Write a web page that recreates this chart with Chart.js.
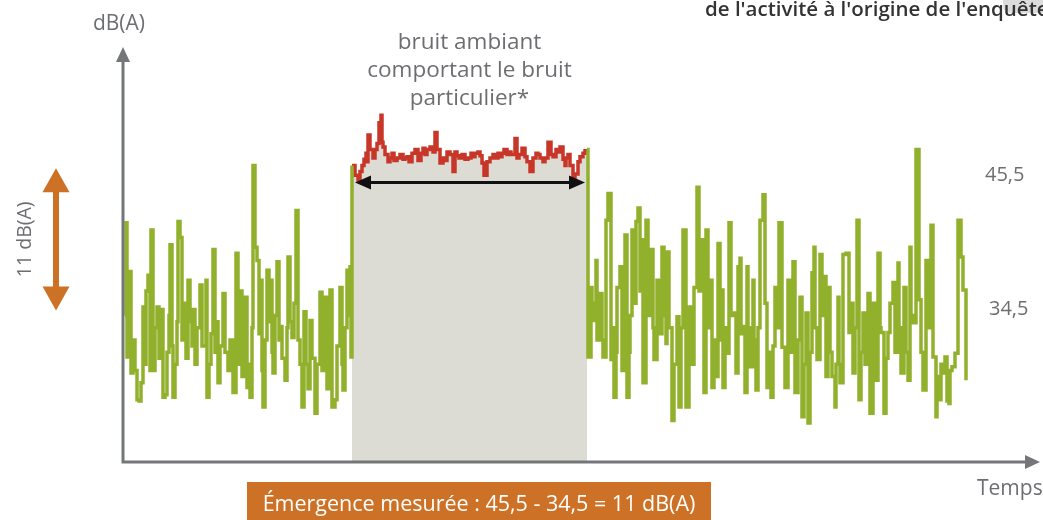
<!DOCTYPE html>
<html>
<head>
<meta charset="utf-8">
<script src="https://cdn.jsdelivr.net/npm/chart.js@4/dist/chart.umd.min.js"></script>
<style>
  html, body { margin: 0; padding: 0; background: #ffffff; }
  #wrap { width: 1043px; height: 520px; position: relative; }
</style>
</head>
<body>
<div id="wrap"><canvas id="c" width="1043" height="520"></canvas></div>
<script>
// ---------- DATA ----------
// Time (arbitrary units) and level in dB(A)
const leftTimes = [2,3,4,6,7,8,10,12,14,16,18,20,21,23,25,27,28,30,32,34,36,38,40,42,44,46,47,49,50,52,54,55,57,58,59,61,63,65,67,69,70,72,74,77,79,83,84,86,88,90,92,94,95,97,100,102,105,107,110,113,115,117,119,122,124,126,127,129,130,132,134,136,137,139,140,142,144,146,147,149,150,152,154,156,157,159,162,164,165,167,169,171,173,175,177,179,181,183,185,187,189,192,194,197,199,202,204,206,207,209,212,214,217,219,220,222,224,226,227,228,229];
const leftValues = [34.0,41.6,30.6,33.0,37.6,29.3,32.0,29.5,27.1,27.0,28.5,34.7,30.0,36.0,37.3,29.5,41.0,29.5,33.0,34.7,30.5,34.5,27.3,27.5,31.0,34.0,39.8,31.5,27.3,30.0,33.5,41.7,40.4,40.4,32.0,35.0,30.5,36.9,33.5,31.5,34.5,30.0,33.0,36.5,31.5,36.9,27.3,30.0,32.5,39.4,31.0,33.5,28.5,31.5,35.8,31.0,29.5,32.0,27.7,39.1,30.0,36.0,29.0,35.5,28.1,30.0,27.3,33.0,46.3,39.6,38.5,32.5,36.9,29.5,26.5,32.0,37.7,33.5,36.9,31.0,29.3,34.0,38.4,32.0,33.1,30.5,28.7,33.0,38.8,33.5,32.2,35.0,42.6,32.0,30.0,26.5,34.3,30.0,28.0,33.6,30.5,26.0,30.0,35.9,29.5,35.5,28.0,31.0,36.1,26.5,27.1,31.5,36.3,30.0,27.9,33.0,37.7,34.0,38.0,30.6,46.3];

const ambientTimes = [229,232,235,237,239,241,243,244,245,247,250,252,254,256,258,259,260,262,265,267,269,271,274,277,280,282,284,286,289,292,295,298,300,302,304,307,310,312,314,317,320,322,324,327,330,332,334,336,339,342,345,348,350,352,355,357,359,361,364,367,370,373,375,377,379,381,384,386,388,392,394,396,399,402,404,407,410,413,415,417,420,422,425,428,430,433,435,437,440,442,443,445,447,450,452,455,457,460,462,464];
const ambientValues = [46.3,45.5,45.1,45.8,46.3,46.8,47.3,46.6,48.8,47.6,46.9,47.6,48.1,49.8,50.4,48.2,47.8,47.2,46.6,46.9,47.3,46.7,46.9,47.2,46.8,46.9,47.0,46.6,47.3,47.6,46.7,47.3,47.7,47.2,47.6,47.8,47.4,49.0,47.6,46.5,46.9,46.7,47.4,47.2,45.8,47.4,47.1,46.9,47.2,46.8,46.9,47.3,47.0,47.3,47.4,47.1,46.5,45.5,46.6,46.9,47.2,46.9,47.3,47.0,47.3,47.6,47.2,47.4,47.2,48.5,46.9,47.2,47.7,47.0,46.6,45.8,46.9,47.3,47.2,46.9,46.6,46.9,48.2,47.2,47.0,47.6,47.4,47.8,46.8,46.3,46.9,47.2,46.3,45.1,45.6,46.6,47.0,47.3,47.5,47.5];

const rightTimes = [464,465,468,469,471,473,474,476,479,480,483,485,488,490,491,493,494,497,499,502,504,506,507,509,511,513,515,517,518,520,523,525,528,530,531,534,536,539,541,543,544,546,549,551,554,556,558,560,563,566,568,571,574,576,578,581,583,585,587,589,591,592,595,597,599,600,602,604,606,608,610,613,615,617,618,620,622,624,625,627,630,631,633,635,637,640,642,644,646,648,650,652,654,656,659,662,665,667,670,672,675,677,679,681,683,685,687,689,691,692,694,697,699,702,703,705,707,709,712,713,715,716,717,720,723,726,728,730,732,734,736,738,740,742,745,747,750,753,755,757,758,761,763,765,767,770,772,775,776,778,781,783,785,787,788,790,793,796,798,800,803,805,808,810,813,814,816,818,820,822,824,826,827,829,832,835,838,840,843];
const rightValues = [47.6,30.6,36.3,33.6,35.0,38.5,32.0,35.8,32.0,30.6,41.8,44.0,30.4,33.0,27.3,31.0,36.3,38.0,29.5,40.6,27.3,31.0,34.0,41.0,35.0,41.7,42.8,36.0,40.2,28.5,41.8,34.0,39.4,33.0,30.4,36.9,32.5,39.6,34.0,31.7,39.2,33.0,25.4,30.0,33.9,26.5,33.0,41.0,26.5,34.7,30.0,36.3,44.5,36.0,40.2,27.7,41.0,33.0,36.9,28.1,32.0,29.0,39.9,32.0,36.1,28.1,33.0,30.9,41.6,34.0,34.2,29.3,38.0,38.7,32.5,33.1,27.7,38.0,33.0,29.8,36.9,32.0,27.9,33.0,41.8,43.9,35.0,28.1,31.0,27.3,31.5,36.3,33.0,41.6,31.4,28.1,36.9,31.0,38.4,27.7,32.0,35.5,25.7,30.0,34.2,25.2,31.0,37.5,39.6,33.0,30.4,39.0,34.0,37.2,29.0,36.3,31.0,29.0,26.5,30.0,35.5,30.0,28.5,39.0,39.1,32.6,35.0,29.3,33.0,41.8,27.1,31.0,34.2,30.0,35.8,26.0,35.0,28.7,39.1,33.0,32.6,26.0,30.5,32.6,35.0,36.7,31.0,38.3,33.0,29.3,36.3,31.0,28.7,39.6,34.0,33.4,47.6,35.3,31.0,27.9,38.5,33.0,41.4,30.6,25.7,29.0,27.1,30.0,29.3,30.6,27.0,26.8,29.5,29.8,30.9,41.8,38.8,36.1,28.7];

const levelLabels = ['45,5', '34,5'];
const levelValues = [45.5, 34.5];
const emergenceText = 'Émergence mesurée : 45,5 - 34,5 = 11 dB(A)';
const emergenceValue = '11 dB(A)';
const ambientLabel = ['bruit ambiant', 'comportant le bruit', 'particulier*'];
const yAxisTitle = 'dB(A)';
const xAxisTitle = 'Temps';
const topNote = "de l'activité à l'origine de l'enquête";

const xMin = 0, xMax = 917, yMin = 22, yMax = 56;

const toPts = (ts, vs) => ts.map((t, i) => ({ x: t, y: vs[i] }));

// ---------- STYLE ----------
const GREEN = '#91b02b';
const RED = '#c73628';
const GREYFILL = '#dddcd4';
const AXIS = '#75767a';
const TEXT = '#6d6e71';
const ORANGE = '#cc7125';
const FONT = '"Open Sans", sans-serif';

function arrowHead(ctx, x, y, dir, w, h, color) {
  ctx.fillStyle = color;
  ctx.beginPath();
  if (dir === 'up') { ctx.moveTo(x, y); ctx.lineTo(x - w / 2, y + h); ctx.lineTo(x + w / 2, y + h); }
  if (dir === 'down') { ctx.moveTo(x, y); ctx.lineTo(x - w / 2, y - h); ctx.lineTo(x + w / 2, y - h); }
  if (dir === 'left') { ctx.moveTo(x, y); ctx.lineTo(x + h, y - w / 2); ctx.lineTo(x + h, y + w / 2); }
  if (dir === 'right') { ctx.moveTo(x, y); ctx.lineTo(x - h, y - w / 2); ctx.lineTo(x - h, y + w / 2); }
  ctx.closePath();
  ctx.fill();
}

const decor = {
  id: 'decor',
  afterDatasetsDraw(chart) {
    const { ctx, chartArea: a, scales: { x, y } } = chart;
    ctx.save();
    // black double arrow across the ambient-noise window
    const ay = y.getPixelForValue(44.9);
    const ax1 = x.getPixelForValue(ambientTimes[0]) + 3;
    const ax2 = x.getPixelForValue(ambientTimes[ambientTimes.length - 1]) - 2;
    ctx.strokeStyle = '#111';
    ctx.lineWidth = 3;
    ctx.beginPath(); ctx.moveTo(ax1 + 10, ay); ctx.lineTo(ax2 - 10, ay); ctx.stroke();
    arrowHead(ctx, ax1, ay, 'left', 14, 16, '#111');
    arrowHead(ctx, ax2, ay, 'right', 14, 16, '#111');

    // axes
    ctx.strokeStyle = AXIS;
    ctx.lineWidth = 3;
    ctx.beginPath();
    ctx.moveTo(a.left, a.bottom); ctx.lineTo(a.left, a.top + 12);
    ctx.moveTo(a.left - 1.5, a.bottom); ctx.lineTo(a.right - 12, a.bottom);
    ctx.stroke();
    arrowHead(ctx, a.left, a.top, 'up', 14, 15, AXIS);
    arrowHead(ctx, a.right, a.bottom, 'right', 14, 15, AXIS);

    // axis titles
    ctx.fillStyle = TEXT;
    ctx.font = '21px ' + FONT;
    ctx.textBaseline = 'middle';
    ctx.textAlign = 'center';
    ctx.fillText(yAxisTitle, a.left - 4, 24);
    ctx.textAlign = 'left';
    ctx.fillText(xAxisTitle, 977, 489);

    // level labels
    ctx.font = '20px ' + FONT;
    levelLabels.forEach((lab, i) => {
      ctx.fillText(lab, i === 0 ? 985 : 989, y.getPixelForValue(levelValues[i]));
    });

    // ambient label
    ctx.textAlign = 'center';
    ctx.font = '22.5px ' + FONT;
    const cx = (x.getPixelForValue(ambientTimes[0]) + x.getPixelForValue(ambientTimes[ambientTimes.length - 1])) / 2;
    ambientLabel.forEach((l, i) => ctx.fillText(l, cx, 43 + i * 28));

    // orange 11 dB double arrow
    const oy1 = y.getPixelForValue(levelValues[0]) - 7;
    const oy2 = y.getPixelForValue(levelValues[1]) + 1;
    const ox = 56;
    ctx.strokeStyle = ORANGE;
    ctx.lineWidth = 6;
    ctx.beginPath(); ctx.moveTo(ox, oy1 + 20); ctx.lineTo(ox, oy2 - 20); ctx.stroke();
    arrowHead(ctx, ox, oy1, 'up', 27, 24, ORANGE);
    arrowHead(ctx, ox, oy2, 'down', 27, 24, ORANGE);
    ctx.save();
    ctx.translate(25, (oy1 + oy2) / 2);
    ctx.rotate(-Math.PI / 2);
    ctx.fillStyle = TEXT;
    ctx.font = '19.5px ' + FONT;
    ctx.textAlign = 'center';
    ctx.fillText(emergenceValue, 0, 0);
    ctx.restore();

    // orange result box
    ctx.fillStyle = ORANGE;
    ctx.fillRect(247, 482, 464, 40);
    ctx.fillStyle = '#ffffff';
    ctx.font = '21.5px ' + FONT;
    ctx.textAlign = 'center';
    ctx.fillText(emergenceText, 479, 505);

    // top-right note (cropped)
    ctx.fillStyle = '#dcdcdc';
    ctx.beginPath();
    ctx.moveTo(1003, 0); ctx.lineTo(1043, 0); ctx.lineTo(1043, 13); ctx.lineTo(1012, 13);
    ctx.quadraticCurveTo(1003, 13, 1003, 5); ctx.closePath(); ctx.fill();
    ctx.fillStyle = '#333333';
    ctx.font = '600 20.5px ' + FONT;
    ctx.textAlign = 'left';
    ctx.fillText(topNote, 705, 10);
    ctx.restore();
  }
};

new Chart(document.getElementById('c'), {
  type: 'line',
  data: {
    datasets: [
      {
        label: 'bruit ambiant',
        data: toPts(ambientTimes, ambientValues),
        borderColor: RED,
        borderWidth: 3.5,
        backgroundColor: GREYFILL,
        fill: 'start',
        stepped: true,
        pointRadius: 0,
        order: 2
      },
      {
        label: 'bruit résiduel (avant)',
        data: toPts(leftTimes, leftValues),
        borderColor: GREEN,
        borderWidth: 3.5,
        fill: false,
        stepped: true,
        pointRadius: 0,
        order: 1
      },
      {
        label: 'bruit résiduel (après)',
        data: toPts(rightTimes, rightValues),
        borderColor: GREEN,
        borderWidth: 3.5,
        fill: false,
        stepped: true,
        pointRadius: 0,
        order: 1
      }
    ]
  },
  options: {
    responsive: false,
    animation: false,
    layout: { padding: { left: 123, right: 3, top: 47, bottom: 58 } },
    plugins: { legend: { display: false }, tooltip: { enabled: false } },
    scales: {
      x: { type: 'linear', min: xMin, max: xMax, display: false },
      y: { type: 'linear', min: yMin, max: yMax, display: false }
    }
  },
  plugins: [decor]
});
</script>
</body>
</html>
